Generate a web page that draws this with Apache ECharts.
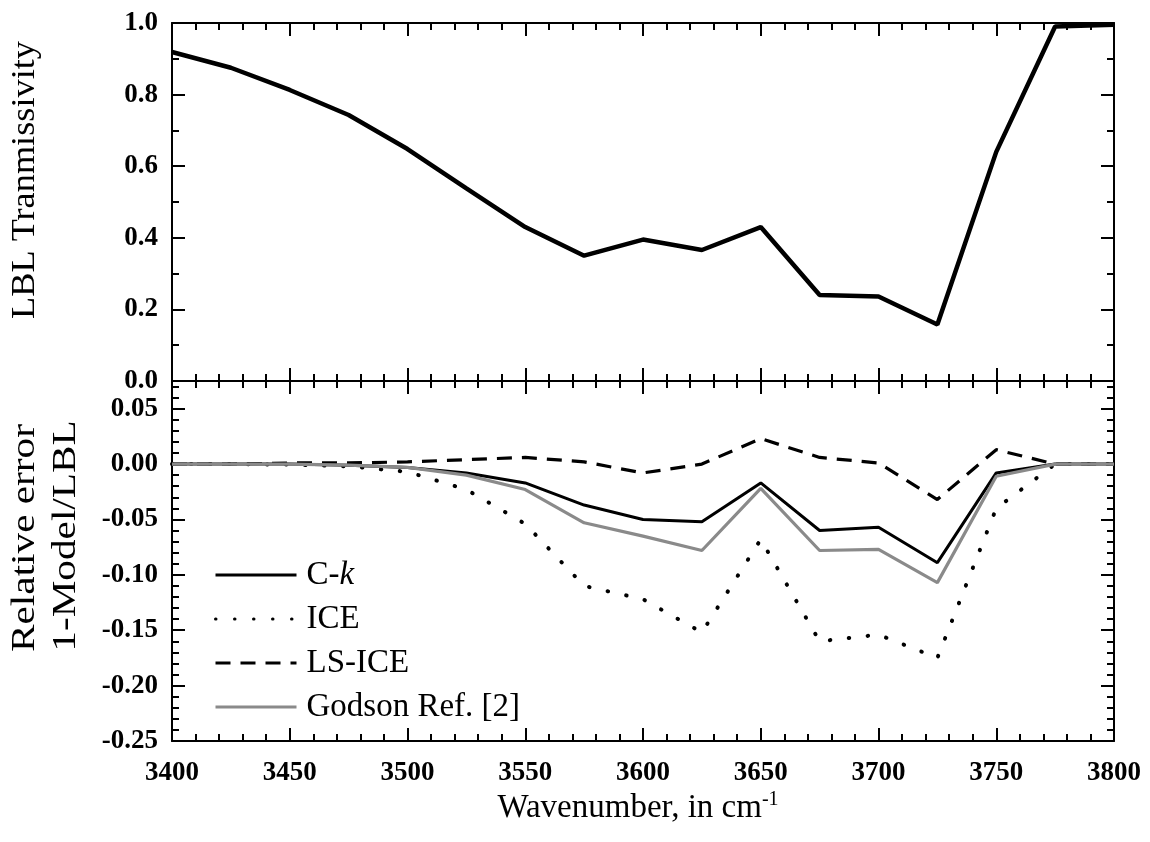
<!DOCTYPE html>
<html>
<head>
<meta charset="utf-8">
<script src="https://cdn.jsdelivr.net/npm/echarts@6/dist/echarts.min.js"></script>
<style>
html,body{margin:0;padding:0;background:#fff;}
#chart{width:1150px;height:842px;}
</style>
</head>
<body>
<div id="chart"></div>
<script>
// ---- data ----
const wavenumbers = [3400,3425,3450,3475,3500,3525,3550,3575,3600,3625,3650,3675,3700,3725,3750,3775,3800];
const lblTransmissivity = [0.919,0.875,0.813,0.743,0.648,0.538,0.430,0.350,0.395,0.366,0.430,0.240,0.236,0.158,0.640,0.990,0.995];
const errCk     = [0,0,0,-0.001,-0.003,-0.008,-0.017,-0.037,-0.050,-0.052,-0.017,-0.060,-0.057,-0.089,-0.008,0,0];
const errIce    = [0,0,-0.0005,-0.002,-0.007,-0.023,-0.054,-0.110,-0.122,-0.152,-0.068,-0.160,-0.154,-0.175,-0.040,0,0];
const errLsIce  = [0,0,0.001,0.001,0.002,0.004,0.006,0.002,-0.008,0.000,0.023,0.006,0.001,-0.032,0.013,0,0];
const errGodson = [0,0,0,-0.001,-0.003,-0.010,-0.023,-0.053,-0.065,-0.078,-0.022,-0.078,-0.077,-0.107,-0.011,0,0];
const seriesNames = ['C-k','ICE','LS-ICE','Godson Ref. [2]'];
const xTitle = 'Wavenumber, in cm';
const yTitleTop = 'LBL Tranmissivity';
const yTitleBottom1 = 'Relative error';
const yTitleBottom2 = '1-Model/LBL';

const pairs = ys => wavenumbers.map((x,i)=>[x, ys[i]]);
const FONT = '"Liberation Serif","Times New Roman",serif';

const chart = echarts.init(document.getElementById('chart'), null, {renderer:'canvas'});

const axisLine = {show:true, onZero:false, lineStyle:{color:'#000', width:2}};
function xAx(grid, pos, labels){
  return {
    type:'value', gridIndex:grid, position:pos, min:3400, max:3800, interval:50,
    axisLine: axisLine,
    axisTick:{show:true, inside:true, length:13, lineStyle:{color:'#000', width:2}},
    minorTick:{show:true, splitNumber:5, length:7, lineStyle:{color:'#000', width:2}},
    splitLine:{show:false}, minorSplitLine:{show:false},
    axisLabel:{show:labels, margin:19, color:'#000', fontFamily:FONT, fontWeight:'bold', fontSize:27,
      formatter: v => String(v)}
  };
}
function yAx(grid, pos, labels, min, max, interval, minorSplit, digits){
  return {
    type:'value', gridIndex:grid, position:pos, min:min, max:max, interval:interval,
    axisLine: axisLine,
    axisTick:{show:true, inside:true, length:13, lineStyle:{color:'#000', width:2}},
    minorTick:{show:true, splitNumber:minorSplit, length:7, lineStyle:{color:'#000', width:2}},
    splitLine:{show:false}, minorSplitLine:{show:false},
    axisLabel:{show:labels, margin:14, color:'#000', fontFamily:FONT, fontWeight:'bold', fontSize:27,
      formatter: v => {
        const k = v/interval;
        if (Math.abs(k-Math.round(k))>1e-6) return '';
        return (Math.abs(v)<1e-9?0:v).toFixed(digits);
      }}
  };
}

const option = {
  backgroundColor:'#fff',
  animation:false,
  grid:[
    {left:172, right:36, top:23, height:358},
    {left:172, right:36, top:381, height:360}
  ],
  xAxis:[ xAx(0,'bottom',false), xAx(0,'top',false), xAx(1,'bottom',true), xAx(1,'top',false) ],
  yAxis:[
    yAx(0,'left',true,0,1,0.2,2,1),
    yAx(0,'right',false,0,1,0.2,2,1),
    yAx(1,'left',true,-0.25,0.075,0.05,5,2),
    yAx(1,'right',false,-0.25,0.075,0.05,5,2)
  ],
  legend:{
    orient:'vertical', left:209, top:553, itemWidth:81, itemHeight:12, itemGap:10,
    data: seriesNames,
    itemStyle:{opacity:0, borderWidth:0},
    lineStyle:{width:3},
    formatter: n => n==='C-k' ? 'C-{i|k}' : n,
    textStyle:{color:'#000', fontFamily:FONT, fontSize:33, lineHeight:34, padding:[0,0,0,5],
      rich:{i:{fontStyle:'italic', fontFamily:FONT, fontSize:33, lineHeight:34, color:'#000'}}}
  },
  series:[
    {name:'LBL', type:'line', xAxisIndex:0, yAxisIndex:0, data:pairs(lblTransmissivity), symbol:'none',
     lineStyle:{color:'#000', width:4.5}, z:3},
    {name:seriesNames[0], type:'line', xAxisIndex:2, yAxisIndex:2, data:pairs(errCk), symbol:'none',
     itemStyle:{color:'#000'}, lineStyle:{color:'#000', width:3}},
    {name:seriesNames[1], type:'line', xAxisIndex:2, yAxisIndex:2, data:pairs(errIce), symbol:'none',
     itemStyle:{color:'#000'}, lineStyle:{color:'#000', width:4, type:[0.5,18.5], cap:'round'}},
    {name:seriesNames[2], type:'line', xAxisIndex:2, yAxisIndex:2, data:pairs(errLsIce), symbol:'none',
     itemStyle:{color:'#000'}, lineStyle:{color:'#000', width:3.2, type:[15,10]}},
    {name:seriesNames[3], type:'line', xAxisIndex:2, yAxisIndex:2, data:pairs(errGodson), symbol:'none',
     itemStyle:{color:'#8a8a8a'}, lineStyle:{color:'#8a8a8a', width:3.2}}
  ],
  graphic:[
    {type:'text', x:638, y:808, style:{
      text:'{t|'+xTitle+'}{s|-1}', align:'center', verticalAlign:'middle',
      rich:{t:{fontFamily:FONT, fontSize:33, fill:'#000'}, s:{fontFamily:FONT, fontSize:20, fill:'#000', verticalAlign:'top', padding:[0,0,16,0]}}}},
    {type:'text', x:25, y:180, rotation:Math.PI/2, scaleX:1.1, style:{
      text:yTitleTop, align:'center', verticalAlign:'middle', fontFamily:FONT, fontSize:33, fill:'#000'}},
    {type:'text', x:25, y:538, rotation:Math.PI/2, scaleX:1.25, style:{
      text:yTitleBottom1, align:'center', verticalAlign:'middle', fontFamily:FONT, fontSize:33, fill:'#000'}},
    {type:'text', x:66, y:536, rotation:Math.PI/2, scaleX:1.25, style:{
      text:yTitleBottom2, align:'center', verticalAlign:'middle', fontFamily:FONT, fontSize:33, fill:'#000'}}
  ]
};
chart.setOption(option);
</script>
</body>
</html>
